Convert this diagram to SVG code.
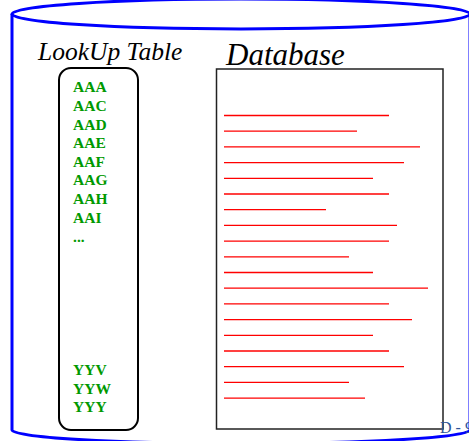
<svg xmlns="http://www.w3.org/2000/svg" width="469" height="441" viewBox="0 0 469 441">
<style>
.cyl{fill:none;stroke:#0000ff;stroke-width:3}
.key{font-family:"Liberation Serif",serif;font-weight:bold;font-size:15.5px;fill:#009900}
.title{font-family:"Liberation Serif",serif;font-style:italic;fill:#000}
.rec{stroke:#ff0000;stroke-width:1.3}
</style>
<rect width="469" height="441" fill="#fff"/>
<g id="cylinder">
<ellipse class="cyl" cx="241" cy="14" rx="229" ry="15"/>
<path class="cyl" d="M12,14 V430 A229,13.5 0 0 0 470,430 V14"/>
</g>
<g id="lookup">
<text class="title" x="38" y="60" font-size="25.5">LookUp Table</text>
<rect x="59" y="68" width="79" height="362" rx="12" fill="none" stroke="#000" stroke-width="2"/>
<g class="key">
<text x="73" y="92">AAA</text>
<text x="73" y="111">AAC</text>
<text x="73" y="129.5">AAD</text>
<text x="73" y="148">AAE</text>
<text x="73" y="166.5">AAF</text>
<text x="73" y="185">AAG</text>
<text x="73" y="204">AAH</text>
<text x="73" y="223">AAI</text>
<text x="73" y="242">...</text>
<text x="73" y="375">YYV</text>
<text x="73" y="393.5">YYW</text>
<text x="73" y="412">YYY</text>
</g>
</g>
<g id="database">
<text class="title" x="226" y="65" font-size="31">Database</text>
<rect x="216.5" y="69" width="226.5" height="360" fill="none" stroke="#222" stroke-width="1.5"/>
<g class="rec">
<line x1="224" y1="115.5" x2="389" y2="115.5"/>
<line x1="224" y1="131.2" x2="357" y2="131.2"/>
<line x1="224" y1="146.9" x2="420" y2="146.9"/>
<line x1="224" y1="162.6" x2="404" y2="162.6"/>
<line x1="224" y1="178.3" x2="373" y2="178.3"/>
<line x1="224" y1="194" x2="389" y2="194"/>
<line x1="224" y1="209.7" x2="326" y2="209.7"/>
<line x1="224" y1="225.4" x2="397" y2="225.4"/>
<line x1="224" y1="241.1" x2="389" y2="241.1"/>
<line x1="224" y1="256.8" x2="349" y2="256.8"/>
<line x1="224" y1="272.5" x2="373" y2="272.5"/>
<line x1="224" y1="288.2" x2="428" y2="288.2"/>
<line x1="224" y1="303.9" x2="389" y2="303.9"/>
<line x1="224" y1="319.6" x2="412" y2="319.6"/>
<line x1="224" y1="335.3" x2="373" y2="335.3"/>
<line x1="224" y1="351" x2="389" y2="351"/>
<line x1="224" y1="366.7" x2="404" y2="366.7"/>
<line x1="224" y1="382.4" x2="349" y2="382.4"/>
<line x1="224" y1="398.1" x2="365" y2="398.1"/>
</g>
</g>
<text x="440" y="433" font-family="Liberation Serif,serif" font-size="16" fill="#2f5597">D - 9</text>
</svg>
